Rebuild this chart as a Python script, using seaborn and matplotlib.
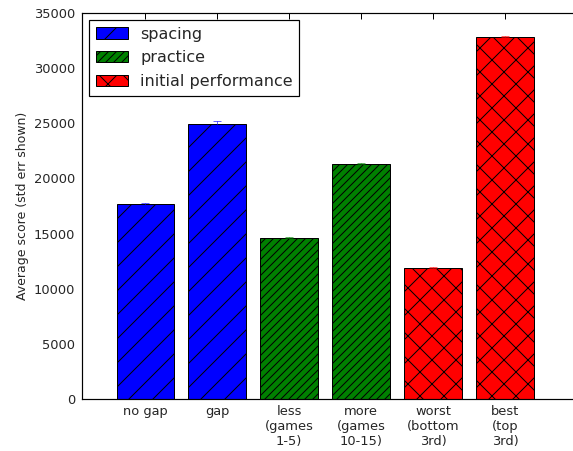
import matplotlib
matplotlib.use("Agg")
import matplotlib.pyplot as plt
from matplotlib.patches import Patch
import seaborn as sns
import pandas as pd

categories = ["no gap", "gap", "less\n(games\n1-5)", "more\n(games\n10-15)",
              "worst\n(bottom\n3rd)", "best\n(top\n3rd)"]
scores = [17680, 24900, 14620, 21330, 11900, 32850]
errors = [60, 300, 40, 40, 40, 60]
groups = ["spacing", "spacing", "practice", "practice",
          "initial performance", "initial performance"]
group_names = ["spacing", "practice", "initial performance"]
group_colors = {"spacing": "#0000ff", "practice": "#008000", "initial performance": "#ff0000"}
group_hatches = {"spacing": "/", "practice": "///", "initial performance": "x"}
yticks = [0, 5000, 10000, 15000, 20000, 25000, 30000, 35000]

df = pd.DataFrame({"category": categories, "score": scores, "group": groups})

sns.set_style("white")
plt.rcParams["font.family"] = ["DejaVu Sans"]
plt.rcParams["hatch.linewidth"] = 1.0

DPI = 72
fig = plt.figure(figsize=(573 / DPI, 451 / DPI), dpi=DPI)
fig.patch.set_facecolor("white")
ax = fig.add_axes([82 / 573, 52 / 451, 495 / 573, 386 / 451])

sns.barplot(data=df, x="category", y="score", hue="group", hue_order=group_names,
            palette=group_colors, dodge=False, width=0.8, saturation=1,
            edgecolor="black", linewidth=1, legend=False, ax=ax, order=categories)

for name, cont in zip(group_names, ax.containers):
    for p in cont:
        p.set_hatch(group_hatches[name])

for i, (v, e, g) in enumerate(zip(scores, errors, groups)):
    ax.errorbar(i, v, yerr=e, ecolor=group_colors[g], alpha=0.6, capsize=4,
                elinewidth=1, capthick=1, fmt="none")

ax.set_xlim(-0.88, 6.0)
ax.set_ylim(0, 35000)
ax.set_yticks(yticks)
ax.set_yticklabels([str(t) for t in yticks])
ax.set_xlabel("")
ax.set_ylabel("Average score (std err shown)", fontsize=12.5, labelpad=5)
ax.tick_params(axis="both", which="both", direction="in", top=True, right=False,
               length=6, width=1, labelsize=13, color="black", pad=7)
ax.tick_params(axis="x", pad=6)
for s in ax.spines.values():
    s.set_color("black")
    s.set_linewidth(1.2)

lh = [Patch(facecolor=group_colors[n], edgecolor="black", hatch=group_hatches[n], label=n)
      for n in group_names]
leg = ax.legend(handles=lh, loc="upper left", fontsize=16, frameon=True, fancybox=False,
                edgecolor="black", framealpha=1, borderpad=0.4, handlelength=2.0,
                handleheight=0.7, labelspacing=0.55, borderaxespad=0.45,
                bbox_to_anchor=(0, 1))
leg.get_frame().set_linewidth(1.2)

fig.savefig("out.png", dpi=DPI, facecolor="white")
